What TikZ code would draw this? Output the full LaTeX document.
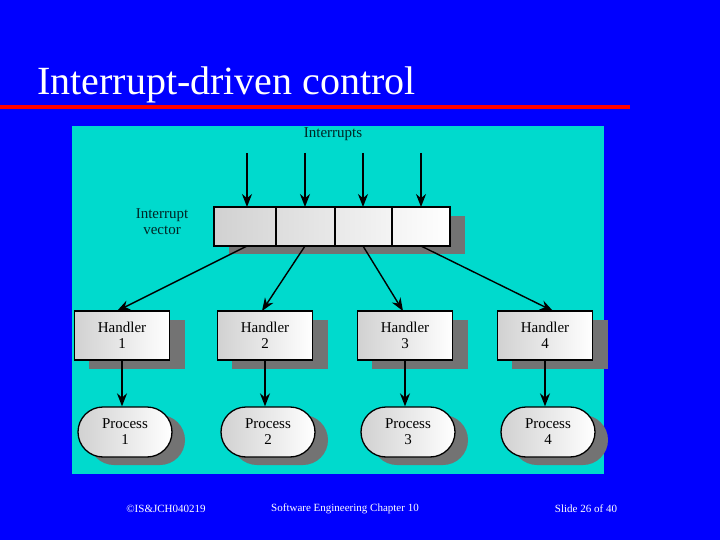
\documentclass[tikz,border=0pt]{standalone}
\usepackage{fontspec}
\setmainfont{Liberation Serif}
\usetikzlibrary{arrows.meta}
\begin{document}
\begin{tikzpicture}[x=1pt,y=-1pt,
  box/.style={draw=black,line width=1.3pt,left color=black!18,right color=white,inner sep=0pt,align=center,font=\fontsize{15}{16}\selectfont},
  shad/.style={fill=black!55,draw=none},
  arr/.style={-{Stealth[length=13pt,width=10pt]},line width=1.4pt},
  lbl/.style={font=\fontsize{15}{16}\selectfont,text=black!70!teal,align=center}]
\fill[blue!100!black] (0,0) rectangle (720,540);
\useasboundingbox (0,0) rectangle (720,540);
\node[anchor=base west,text=white,font=\fontsize{40}{40}\selectfont,inner sep=0pt] (title) at (37,95) {Interrupt-driven control};
\fill[red] (0,105) rectangle (630,109);
\fill[color={rgb,255:red,0;green,218;blue,205}] (72,126) rectangle (604,474);
% vector
\fill[shad] (229,216) rectangle (465,254);
\node[box,minimum width=236pt,minimum height=39pt] (vec) at (332,226.5) {};
\foreach \x in {276,335,392} \draw[line width=1.3pt] (\x,207) -- (\x,246);
\node[lbl] (intr) at (333,134) {Interrupts};
\node[lbl] (ivl) at (162,222) {Interrupt\\vector};
\foreach \x [count=\i] in {247,305,363,421}{
  \coordinate (in\i) at (\x,153);
  \coordinate (vt\i) at (\x,207);
  \coordinate (vb\i) at (\x,246);
  \draw[arr] (in\i) -- (vt\i);
}
\foreach \x/\tx [count=\i] in {122/117,265/262,405/403,545/553}{
  \fill[shad] (\x-33,320) rectangle (\x+63,369);
  \node[box,minimum width=95pt,minimum height=49pt] (h\i) at (\x,335.5) {Handler\\\i};
  \fill[shad] (\x-33,415) [rounded corners=25pt] rectangle (\x+63,465);
  \node[box,rounded corners=25pt,minimum width=94pt,minimum height=50pt] (p\i) at (\x+3,432) {Process\\\i};
  \coordinate (ht\i) at (\tx,311);
  \draw[arr] (vb\i) -- (ht\i);
  \draw[arr] (h\i.south -| \x,0) -- (p\i.north -| \x,0);
}
\node[text=white,font=\fontsize{11}{12}\selectfont] (f1) at (166,509) {©IS\&JCH040219};
\node[text=white,font=\fontsize{11}{12}\selectfont] (f2) at (345,509) {Software Engineering Chapter 10};
\node[text=white,font=\fontsize{11}{12}\selectfont] (f3) at (586,509) {Slide 26 of 40};
\end{tikzpicture}
\end{document}
